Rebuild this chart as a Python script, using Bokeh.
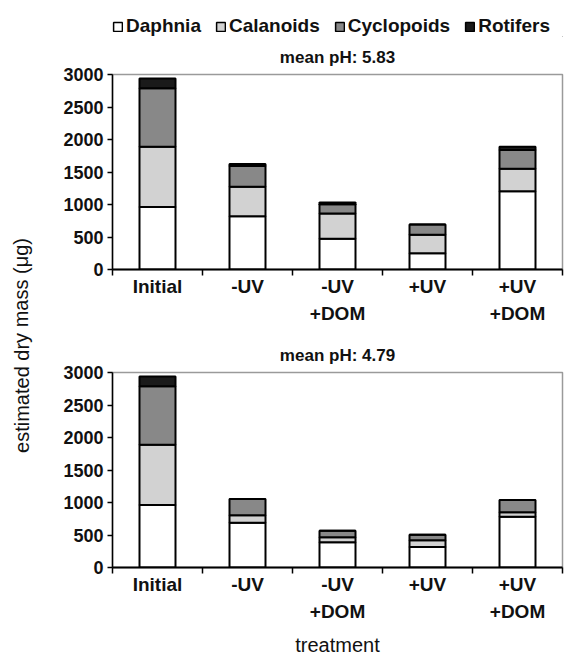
from bokeh.plotting import figure
from bokeh.models import (Range1d, LinearAxis, FixedTicker, Legend, LegendItem,
                          Title, ColumnDataSource)
from bokeh.layouts import row, column
from bokeh.embed import file_html
from bokeh.resources import INLINE
from bokeh.core.properties import value

# ---------------- data ----------------
treatments = ["Initial", "-UV", "-UV\n+DOM", "+UV", "+UV\n+DOM"]
groups = ["Daphnia", "Calanoids", "Cyclopoids", "Rotifers"]
y_ticks = [0, 500, 1000, 1500, 2000, 2500, 3000]

ph583_daphnia = [960, 820, 475, 250, 1205]
ph583_calanoids = [930, 455, 387, 286, 345]
ph583_cyclopoids = [900, 317, 142, 157, 290]
ph583_rotifers = [150, 30, 26, 0, 50]

ph479_daphnia = [960, 690, 390, 315, 780]
ph479_calanoids = [930, 115, 77, 105, 70]
ph479_cyclopoids = [900, 250, 100, 85, 190]
ph479_rotifers = [150, 0, 0, 0, 0]

# ---------------- style ----------------
colors = ["#ffffff", "#d2d2d2", "#888888", "#1a1a1a"]
FONT = "Liberation Sans"
FIG_W = 532
LAB_W = 34
LEG_H = 37
N = len(treatments)
centers = [i + 0.5 for i in range(N)]
edges = list(range(N + 1))


def panel(title, d, c, cy, r, height, b_top, frame_h, xlabel):
    src = ColumnDataSource(dict(x=centers, Daphnia=d, Calanoids=c,
                                Cyclopoids=cy, Rotifers=r))
    p = figure(x_range=Range1d(0, N), y_range=Range1d(0, 3000),
               width=FIG_W, height=height, output_backend="svg",
               toolbar_location=None, x_axis_location=None,
               min_border_left=78, min_border_right=4,
               min_border_top=b_top, min_border_bottom=height - b_top - frame_h)
    p.vbar_stack(groups, x="x", width=0.4, source=src,
                 fill_color=colors, line_color="black", line_width=2)
    p.grid.visible = False
    p.outline_line_color = "#9a9a9a"
    p.outline_line_width = 1.5
    p.background_fill_color = "white"
    p.border_fill_color = "white"

    yax = p.yaxis[0]
    yax.ticker = FixedTicker(ticks=y_ticks)
    yax.major_tick_in = 0
    yax.major_tick_out = 5
    yax.minor_tick_in = 0
    yax.minor_tick_out = 0
    yax.axis_line_width = 1.5
    yax.major_tick_line_width = 1.5
    yax.axis_line_color = "black"
    yax.major_tick_line_color = "black"
    yax.major_label_text_font = FONT
    yax.major_label_text_font_style = "bold"
    yax.major_label_text_font_size = "18px"
    yax.major_label_text_color = "#111111"
    yax.major_label_standoff = 4

    # axis carrying the ticks between categories
    tax = LinearAxis(ticker=FixedTicker(ticks=edges),
                     major_tick_in=0, major_tick_out=6,
                     minor_tick_in=0, minor_tick_out=0,
                     axis_line_width=2, major_tick_line_width=1.5,
                     major_label_text_font_size="0px",
                     major_label_standoff=0)
    tax.major_label_overrides = {e: "" for e in edges}
    p.add_layout(tax, "below")

    # axis carrying the category names
    lax = LinearAxis(ticker=FixedTicker(ticks=centers),
                     major_tick_in=0, major_tick_out=0,
                     minor_tick_in=0, minor_tick_out=0,
                     axis_line_color=None, major_label_standoff=0)
    lax.major_label_overrides = {cx: t for cx, t in zip(centers, treatments)}
    lax.major_label_text_font = FONT
    lax.major_label_text_font_style = "bold"
    lax.major_label_text_font_size = "19px"
    lax.major_label_text_color = "#111111"
    lax.major_label_text_line_height = 1.3
    if xlabel:
        lax.axis_label = xlabel
        lax.axis_label_text_font = FONT
        lax.axis_label_text_font_style = "normal"
        lax.axis_label_text_font_size = "20px"
        lax.axis_label_text_color = "#111111"
        lax.axis_label_standoff = 9
    p.add_layout(lax, "below")

    p.add_layout(Title(text=title, align="center", text_font=FONT,
                       text_font_style="bold", text_font_size="17px",
                       text_color="#111111", standoff=16), "above")
    return p


# legend strip (bars with the same styling, zero-sized and outside the view)
leg = figure(width=FIG_W, height=LEG_H, x_range=Range1d(0, 1),
             y_range=Range1d(0, 1), output_backend="svg",
             toolbar_location=None, min_border=0)
leg.axis.visible = False
leg.grid.visible = False
leg.outline_line_color = None
leg_rends = [leg.vbar(x=[5], top=[0], bottom=[0], width=0, fill_color=col,
                      line_color="black", line_width=1.5) for col in colors]
lg = Legend(items=[LegendItem(label=g, renderers=[rr])
                   for g, rr in zip(groups, leg_rends)],
            orientation="horizontal", location=(0, 0),
            glyph_width=11, glyph_height=11, label_standoff=3,
            spacing=14, padding=0, margin=0,
            border_line_color=None, background_fill_alpha=0,
            label_text_font=FONT, label_text_font_style="bold",
            label_text_font_size="19px", label_text_color="#111111")
leg.add_layout(lg, "center")

H1, H2 = 298, 323
top = panel("mean pH: 5.83", ph583_daphnia, ph583_calanoids, ph583_cyclopoids,
            ph583_rotifers, H1, 36, 196, None)
bottom = panel("mean pH: 4.79", ph479_daphnia, ph479_calanoids, ph479_cyclopoids,
               ph479_rotifers, H2, 37, 198, "treatment")

TOT_H = LEG_H + H1 + H2
lab = figure(width=LAB_W, height=TOT_H, x_range=Range1d(0, LAB_W),
             y_range=Range1d(0, TOT_H), output_backend="svg",
             toolbar_location=None, min_border=0)
lab.axis.visible = False
lab.grid.visible = False
lab.outline_line_color = None
lab.text(x=[21], y=[TOT_H - 345], text=["estimated dry mass (\u03bcg)"],
         angle=1.5708, text_align="center", text_baseline="middle",
         text_font=value(FONT), text_font_size="20px", text_color="#111111")

layout = row(lab, column(leg, top, bottom))
open("out.html", "w").write(file_html(layout, INLINE))
